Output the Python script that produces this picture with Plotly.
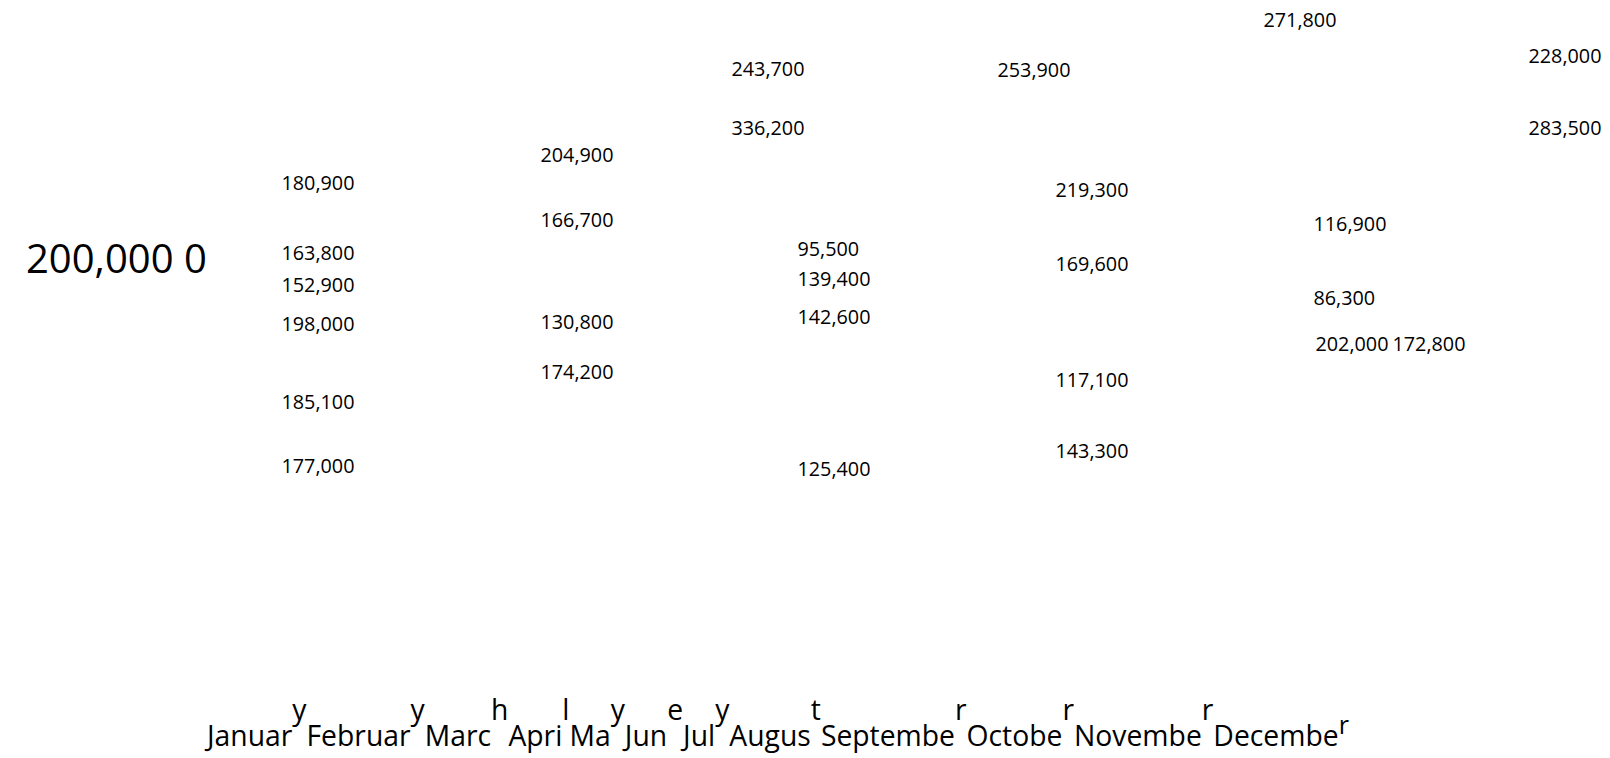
import plotly.graph_objects as go

# ---- data ----
months = ["January", "February", "March", "April", "May", "June", "July",
          "August", "September", "October", "November", "December"]
values = [271800, 228000, 243700, 253900, 336200, 283500, 204900, 180900,
          219300, 166700, 116900, 95500, 163800, 169600, 139400, 152900,
          86300, 142600, 130800, 198000, 202000, 172800, 174200, 117100,
          185100, 143300, 177000, 125400]
y_tick_labels = ["200,000", "0"]

# ---- layout positions (page pixels) ----
label_x = [1265, 1530, 733, 999, 733, 1530, 542, 283, 1057, 542, 1315, 799,
           283, 1057, 799, 283, 1315, 799, 542, 283, 1317, 1394, 542, 1057,
           283, 1057, 283, 799]
label_y = [20.5, 56.5, 69, 70.5, 128, 128, 155.5, 183, 190.5, 220.5, 224.5,
           249.5, 253, 264.5, 279.5, 285.5, 298.5, 317.5, 322.5, 324.5, 344.5,
           344.5, 372.5, 380.5, 402, 451.5, 466, 469.5]
DX, DY = -9.5, -6  # text anchor offsets

W, H = 1610, 758
FONT = "Open Sans"
HIDE = "<span style='color:rgba(0,0,0,0)'>{}</span>"

fig = go.Figure()
fig.add_trace(go.Scatter(
    x=[v + DX for v in label_x], y=[v + DY for v in label_y], mode="text",
    text=[f"{v:,}" for v in values],
    textposition="middle right",
    textfont=dict(family=FONT, size=19.8, color="#000"),
    cliponaxis=False,
    hoverinfo="skip", showlegend=False,
))

# y axis tick labels collapsed on one line
fig.add_annotation(x=16, y=249, xref="x", yref="y", xanchor="left", yanchor="middle",
                   text=" ".join(y_tick_labels), showarrow=False,
                   font=dict(family=FONT, size=40, color="#000"))

# month labels: last letter lifted onto the line above
bottom_parts, top_parts = [], []
for i, m in enumerate(months):
    head, tail = m[:-1], m[-1]
    if i < len(months) - 1:
        bottom_parts.append(head + HIDE.format(tail))
        top_parts.append(HIDE.format(head) + tail)
    else:
        bottom_parts.append(head + "<sup><span style='font-size:25px'>" + tail + "</span></sup>")
bottom_text = "".join(bottom_parts)
top_text = "".join(top_parts)

month_font = dict(family=FONT, size=28.3, color="#000")
fig.add_annotation(x=194, y=722, xref="x", yref="y", xanchor="left", yanchor="middle",
                   text=bottom_text, showarrow=False, font=month_font)
fig.add_annotation(x=194, y=701, xref="x", yref="y", xanchor="left", yanchor="middle",
                   text=top_text, showarrow=False, font=month_font)

fig.update_layout(
    width=W, height=H, margin=dict(l=0, r=0, t=0, b=0),
    paper_bgcolor="white", plot_bgcolor="white",
    xaxis=dict(range=[0, W], visible=False, fixedrange=True),
    yaxis=dict(range=[H, 0], visible=False, fixedrange=True),
    showlegend=False,
)
fig.write_html("out.html", config={"displayModeBar": False})
